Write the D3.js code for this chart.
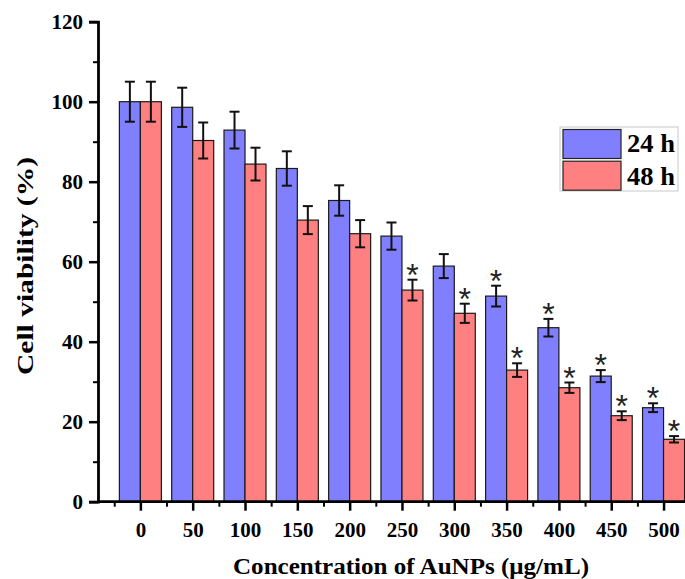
<!DOCTYPE html>
<html>
<head>
<meta charset="utf-8">
<title>Cell viability</title>
<script src="https://cdn.jsdelivr.net/npm/d3@7"></script>
<style>
  body { margin: 0; background: #fff; }
  svg text { font-family: "Liberation Serif", "Times New Roman", serif; font-weight: bold; }
</style>
</head>
<body>
<svg id="chart" width="685" height="579"></svg>
<script>
// data
var concentrations = ["0", "50", "100", "150", "200", "250", "300", "350", "400", "450", "500"];
var seriesNames = ["24 h", "48 h"];
var viability24 = [100, 98.6, 92.9, 83.3, 75.3, 66.4, 58.9, 51.4, 43.5, 31.4, 23.5];
var error24 = [5, 4.9, 4.6, 4.3, 3.8, 3.4, 3.0, 2.6, 2.2, 1.5, 1.1];
var viability48 = [100, 90.3, 84.4, 70.4, 67.0, 52.9, 47.1, 32.9, 28.5, 21.5, 15.6];
var error48 = [5, 4.5, 4.1, 3.5, 3.4, 2.6, 2.4, 1.7, 1.3, 1.1, 0.8];
// significance marks (*)
var sig24 = [false, false, false, false, false, false, false, true, true, true, true];
var sig48 = [false, false, false, false, false, true, true, true, true, true, true];
var yTicks = [0, 20, 40, 60, 80, 100, 120];

var colors = ["#8080ff", "#ff8080"];

var svg = d3.select("#chart");

// index axis: Origin-like linear x axis, categories at integer positions
var x = d3.scaleLinear().domain([-0.81, 10.41]).range([98, 685]);
var y = d3.scaleLinear().domain([0, 120]).range([501.7, 21.7]);
var barW = 21;

var series = [
  { vals: viability24, errs: error24, sig: sig24, off: -1 },
  { vals: viability48, errs: error48, sig: sig48, off: 0 }
];

series.forEach(function(s, si) {
  var pts = s.vals.map(function(v, i) {
    return { i: i, v: v, e: s.errs[i], sig: s.sig[i], cx: x(i) + s.off * barW + barW / 2 };
  });
  var g = svg.append("g");
  g.selectAll("rect")
    .data(pts)
    .enter().append("rect")
    .attr("x", function(d) { return d.cx - barW / 2; })
    .attr("y", function(d) { return y(d.v); })
    .attr("width", barW)
    .attr("height", function(d) { return y(0) - y(d.v); })
    .attr("fill", colors[si])
    .attr("stroke", "#1a1a1a")
    .attr("stroke-width", 1.2);

  // error bars
  var eb = g.selectAll(".err")
    .data(pts)
    .enter().append("g")
    .attr("class", "err")
    .attr("stroke", "#111")
    .attr("stroke-width", 2);
  eb.append("line")
    .attr("x1", function(d) { return d.cx; })
    .attr("x2", function(d) { return d.cx; })
    .attr("y1", function(d) { return y(d.v + d.e); })
    .attr("y2", function(d) { return y(d.v - d.e); });
  [1, -1].forEach(function(sgn) {
    eb.append("line")
      .attr("x1", function(d) { return d.cx - 5; })
      .attr("x2", function(d) { return d.cx + 5; })
      .attr("y1", function(d) { return y(d.v + sgn * d.e); })
      .attr("y2", function(d) { return y(d.v + sgn * d.e); });
  });

  // asterisks
  g.selectAll(".star")
    .data(pts.filter(function(d) { return d.sig; }))
    .enter().append("text")
    .attr("class", "star")
    .attr("x", function(d) { return d.cx; })
    .attr("y", function(d) { return y(d.v + d.e) + 6; })
    .attr("text-anchor", "middle")
    .style("font-family", "'Liberation Sans', Arial, sans-serif")
    .style("font-weight", "normal")
    .style("font-size", "32px")
    .attr("fill", "#222")
    .text("*");
});

// y axis
var yAxis = svg.append("g")
  .attr("transform", "translate(98,0)")
  .call(d3.axisLeft(y).tickValues(yTicks).tickSize(9).tickPadding(6).tickFormat(d3.format("d")));
yAxis.selectAll(".tick line").attr("stroke-width", 2.5);
yAxis.select(".domain").attr("stroke-width", 2.8);
yAxis.selectAll(".tick text").style("font-size", "21px").attr("fill", "#000");
// minor y ticks
var yMinor = d3.range(10, 120, 20);
svg.append("g")
  .attr("transform", "translate(98,0)")
  .call(d3.axisLeft(y).tickValues(yMinor).tickSize(5).tickFormat(""))
  .call(function(g) { g.select(".domain").remove(); g.selectAll("line").attr("stroke-width", 2); });

// x axis
var xIdx = d3.range(concentrations.length);
var xAxis = svg.append("g")
  .attr("transform", "translate(0,501.7)")
  .call(d3.axisBottom(x).tickValues(xIdx).tickSize(9).tickPadding(11)
        .tickFormat(function(i) { return concentrations[i]; }));
xAxis.select(".domain").attr("stroke-width", 2.8).attr("d", "M98,0H685");
xAxis.selectAll(".tick line").attr("stroke-width", 2.5);
xAxis.selectAll(".tick text").style("font-size", "21px").attr("fill", "#000");
svg.append("g")
  .attr("transform", "translate(0,501.7)")
  .call(d3.axisBottom(x).tickValues(d3.range(-0.5, 10.5, 1)).tickSize(5).tickFormat(""))
  .call(function(g) { g.select(".domain").remove(); g.selectAll("line").attr("stroke-width", 2); });

// axis titles
svg.append("text")
  .attr("x", 411)
  .attr("y", 574)
  .attr("text-anchor", "middle")
  .attr("textLength", 356)
  .attr("lengthAdjust", "spacingAndGlyphs")
  .style("font-size", "24px")
  .text("Concentration of AuNPs (\u03bcg/mL)");

svg.append("text")
  .attr("transform", "translate(33,266) rotate(-90)")
  .attr("text-anchor", "middle")
  .attr("textLength", 218)
  .attr("lengthAdjust", "spacingAndGlyphs")
  .style("font-size", "24px")
  .text("Cell viability (%)");

// legend
var legend = svg.append("g").attr("transform", "translate(560,127)");
legend.append("rect")
  .attr("width", 118).attr("height", 64)
  .attr("fill", "#fff").attr("stroke", "#c8c8c8").attr("stroke-width", 1);
seriesNames.forEach(function(name, i) {
  legend.append("rect")
    .attr("x", 3).attr("y", 2.5 + i * 31.7)
    .attr("width", 58).attr("height", 29)
    .attr("fill", colors[i]).attr("stroke", "#222").attr("stroke-width", 1.2);
  legend.append("text")
    .attr("x", 67).attr("y", 25 + i * 32.5)
    .attr("textLength", 48)
    .attr("lengthAdjust", "spacingAndGlyphs")
    .style("font-size", "25px")
    .text(name);
});
</script>
</body>
</html>
